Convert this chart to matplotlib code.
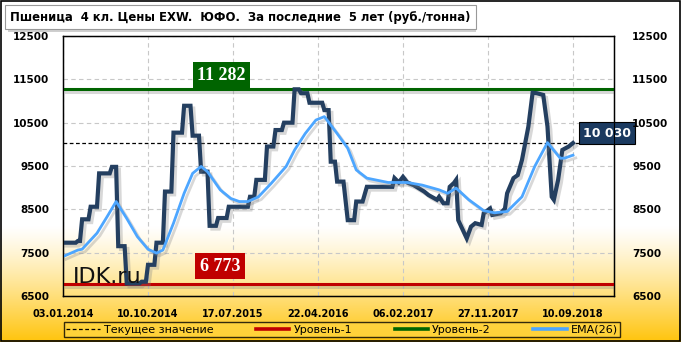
import numpy as np
import matplotlib
matplotlib.use("Agg")
import matplotlib.pyplot as plt
import matplotlib.patheffects as pe
from matplotlib.lines import Line2D

# weeks since 03.01.2014 and price (rub/t) at each vertex of the price line
price_weeks = [0, 6, 7, 8, 9, 12, 13, 16, 17, 22, 23, 25, 26, 29, 30, 36, 37, 39, 40, 43,
               44, 47, 48, 51, 52, 56, 57, 60, 61, 64, 65, 68, 69, 72, 73, 77, 78, 87, 88, 90,
               91, 95, 96, 99, 100, 103, 104, 108, 109, 111, 112, 115, 116, 122, 123, 125, 126, 128, 129, 132,
               134, 137, 138, 141, 143, 155, 156, 158, 160, 162, 165, 170, 172, 176, 177, 179, 181, 182, 184, 185,
               186, 190, 192, 194, 197, 198, 201, 202, 206, 208, 209, 212, 214, 216, 219, 221, 223, 226, 228, 230,
               231, 233, 235, 238, 240]
price = [7730, 7730, 7770, 7770, 8270, 8270, 8560, 8560, 9330, 9330, 9480, 9480, 7650, 7650, 6790, 6790, 6830, 6830, 7220, 7220,
         7730, 7730, 8910, 8910, 10270, 10270, 10890, 10890, 10200, 10200, 9370, 9370, 8120, 8120, 8300, 8300, 8560, 8560, 8790, 8790,
         9180, 9180, 9950, 9950, 10330, 10330, 10500, 10500, 11270, 11270, 11180, 11180, 10960, 10960, 10790, 10790, 9600, 9600, 9140, 9140,
         8250, 8250, 8680, 8680, 9020, 9020, 9220, 9120, 9250, 9120, 9060, 8910, 8830, 8720, 8790, 8640, 8640, 9020, 9110, 9180,
         8250, 7830, 8100, 8180, 8140, 8410, 8520, 8370, 8410, 8520, 8870, 9220, 9290, 9640, 10410, 11190, 11180, 11140, 10410, 8790,
         8720, 9180, 9870, 9950, 10030]

ema_weeks = [0, 7, 9, 16, 21, 25, 30, 35, 40, 44, 47, 52, 57, 61, 65, 68, 74, 79, 83, 87,
             92, 98, 105, 109, 114, 119, 123, 129, 134, 138, 143, 153, 162, 169, 177, 181, 185, 191, 198, 203,
             209, 216, 222, 228, 234, 236, 240]
ema = [7410, 7560, 7580, 7950, 8350, 8680, 8290, 7870, 7580, 7490, 7560, 8180, 8870, 9330, 9490, 9370, 8950, 8750, 8680, 8680,
       8790, 9100, 9490, 9870, 10250, 10560, 10640, 10250, 9910, 9410, 9220, 9120, 9120, 9060, 8950, 8870, 8990, 8720, 8470, 8420,
       8450, 8790, 9490, 10040, 9680, 9680, 9750]

current = 10030
level1 = 6773
level2 = 11282

tick_weeks = [0, 40, 80, 120, 160, 200, 240]
tick_dates = ["03.01.2014", "10.10.2014", "17.07.2015", "22.04.2016", "06.02.2017", "27.11.2017", "10.09.2018"]
y_ticks = [6500, 7500, 8500, 9500, 10500, 11500, 12500]

fig = plt.figure(figsize=(6.81, 3.42), dpi=100)

# background gradient white -> yellow
bg = fig.add_axes([0, 0, 1, 1], zorder=-10)
t = np.linspace(0, 1, 342)
ramp = np.clip((t - 0.66) / 0.34, 0, 1) ** 1.2
top = np.array([1.0, 1.0, 1.0])
bot = np.array([1.0, 0.77, 0.05])
img = top[None, :] * (1 - ramp[:, None]) + bot[None, :] * ramp[:, None]
bg.imshow(img[:, None, :], aspect="auto", extent=[0, 1, 0, 1])
bg.set_xlim(0, 1)
bg.set_ylim(0, 1)
bg.axis("off")
bg.add_patch(plt.Rectangle((0.001, 0.002), 0.997, 0.995, fill=False, ec="black", lw=1.2))
# title box shadow
bg.add_patch(plt.Rectangle((0.0117, 0.906), 0.687, 0.070, fc="#b0b0b0", ec="none", alpha=0.6))

ax = fig.add_axes([0.0925, 0.1345, 0.8091, 0.7602])
ax.patch.set_alpha(0)
ax.set_xlim(0, 259.3)
ax.set_ylim(6500, 12500)
ax.set_xticks(tick_weeks)
ax.set_xticklabels(tick_dates, fontsize=7, fontweight="bold")
ax.set_yticks(y_ticks)
ax.set_yticklabels([str(v) for v in y_ticks], fontsize=7.5, fontweight="bold")
ax.tick_params(axis="y", length=0, pad=10)
ax.tick_params(axis="x", length=0, pad=9)
ax.grid(True, color="#c8c8c8", ls=(0, (4, 3)), lw=0.8)
for s in ax.spines.values():
    s.set_linewidth(1.0)

ax2 = ax.twinx()
ax2.set_ylim(6500, 12500)
ax2.set_yticks(y_ticks)
ax2.set_yticklabels([str(v) for v in y_ticks], fontsize=7.5, fontweight="bold")
ax2.tick_params(axis="y", length=0, pad=13)

shadow = [pe.SimpleLineShadow(offset=(2, -2), shadow_color="#808080", alpha=0.3), pe.Normal()]

ax.axhline(level2, color="#006400", lw=2.2, zorder=3, path_effects=shadow)
ax.axhline(level1, color="#c00000", lw=2.2, zorder=3, path_effects=shadow)
ax.axhline(current, color="black", lw=0.9, ls=(0, (3, 2)), zorder=3)

ax.plot(price_weeks, price, color="#243f60", lw=3.0, zorder=4, solid_joinstyle="miter",
        path_effects=shadow)
ax.plot(ema_weeks, ema, color="#4da6ff", lw=2.0, zorder=5, path_effects=shadow)

ax.text(4.5, 6800, "IDK.ru", fontsize=16, color="#111111", zorder=6)

ax.text(74.5, 11600, "11 282", family="Liberation Serif", fontweight="bold", fontsize=13,
        color="white", ha="center", va="center", zorder=7,
        bbox=dict(boxstyle="square,pad=0.25", fc="#006400", ec="none"))
ax.text(74, 7190, "6 773", family="Liberation Serif", fontweight="bold", fontsize=13,
        color="white", ha="center", va="center", zorder=7,
        bbox=dict(boxstyle="square,pad=0.25", fc="#c00000", ec="none"))
ax.text(256, 10260, "10 030", fontweight="bold", fontsize=9,
        color="white", ha="center", va="center", zorder=7, clip_on=False,
        bbox=dict(boxstyle="square,pad=0.35", fc="#1b3a60", ec="black", lw=0.8))

fig.text(0.0147, 0.950, "Пшеница  4 кл. Цены EXW.  ЮФО.  За последние  5 лет (руб./тонна)",
         fontsize=8.4, fontweight="bold", ha="left", va="center",
         bbox=dict(boxstyle="square,pad=0.45", fc="white", ec="#999999", lw=0.8))

handles = [Line2D([], [], color="black", lw=0.9, ls=(0, (3, 2))),
           Line2D([], [], color="#c00000", lw=2.6),
           Line2D([], [], color="#006400", lw=2.6),
           Line2D([], [], color="#4da6ff", lw=2.6)]
labels = ["Текущее значение", "Уровень-1", "Уровень-2", "EMA(26)"]
leg = fig.legend(handles, labels, loc="center", bbox_to_anchor=(0.5025, 0.0365), ncol=4,
                 fontsize=8, frameon=True, fancybox=False, handlelength=3.0,
                 columnspacing=3.8, handletextpad=0.4, borderpad=0.2, borderaxespad=0)
leg.get_frame().set_edgecolor("black")
leg.get_frame().set_facecolor("#ffd540")
leg.get_frame().set_linewidth(1.0)

fig.savefig("out.png", dpi=100)
